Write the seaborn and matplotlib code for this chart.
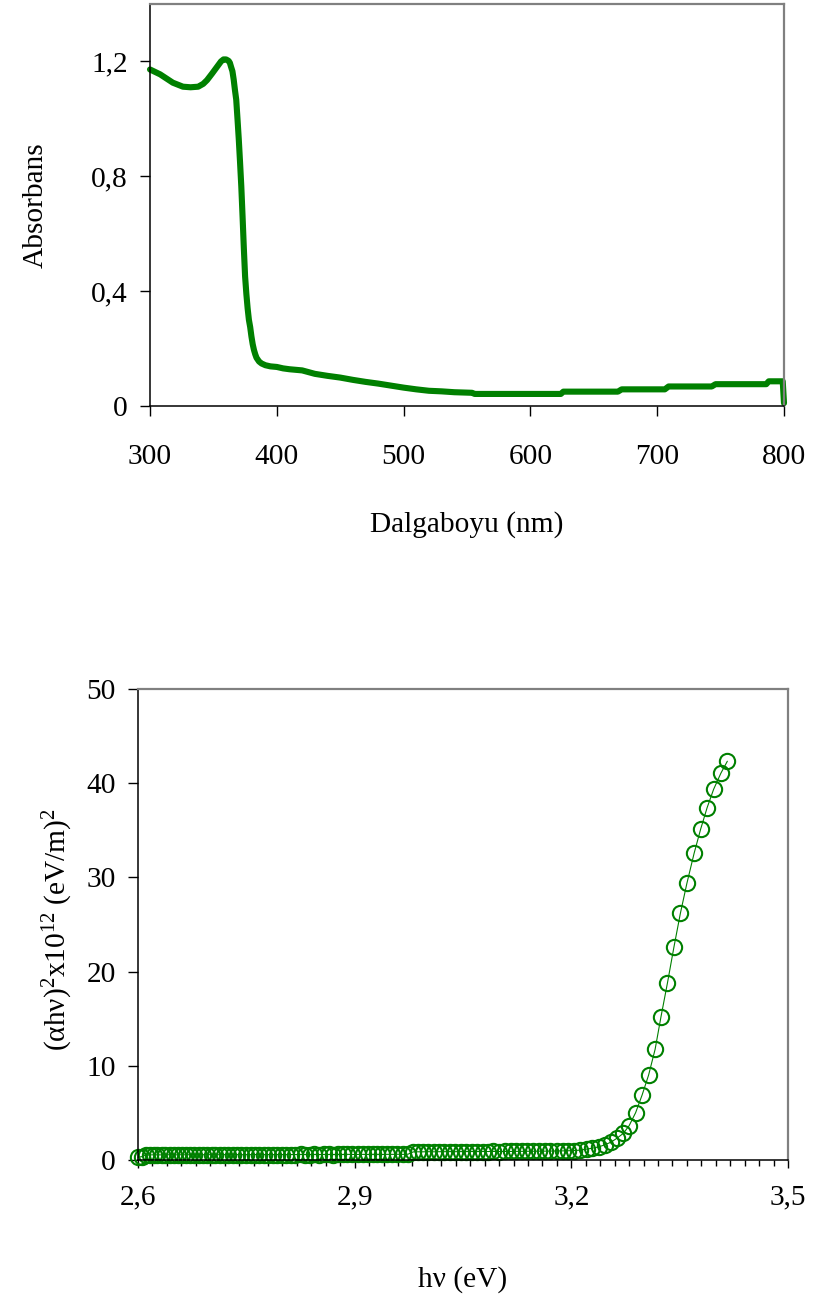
import matplotlib
matplotlib.use("Agg")
import matplotlib.pyplot as plt
from matplotlib.ticker import MultipleLocator
import seaborn as sns

# --- Absorbance spectrum ---------------------------------------------------
wavelength_nm = [300, 308, 318, 326, 332, 338, 342, 345, 349, 353, 356, 358, 360,
                 362, 363, 364, 365, 366, 367, 368, 369, 370, 371, 372, 373, 374,
                 375, 376, 377, 378, 379, 380, 381, 382, 383, 384, 386, 388, 391,
                 395, 400, 405, 410, 420, 430, 440, 450, 460, 470, 480, 490, 500,
                 510, 520, 530, 540, 554, 556, 624, 626, 669, 672, 706, 709, 743,
                 746, 786, 788, 799, 800]
absorbance = [1.172, 1.155, 1.126, 1.112, 1.110, 1.112, 1.122, 1.135, 1.158, 1.182,
              1.200, 1.207, 1.207, 1.202, 1.195, 1.180, 1.166, 1.137, 1.100, 1.067,
              1.000, 0.930, 0.850, 0.765, 0.660, 0.550, 0.451, 0.390, 0.340, 0.300,
              0.275, 0.242, 0.215, 0.195, 0.180, 0.168, 0.155, 0.148, 0.142, 0.138,
              0.136, 0.131, 0.128, 0.124, 0.112, 0.105, 0.099, 0.091, 0.084, 0.078,
              0.071, 0.064, 0.058, 0.053, 0.051, 0.048, 0.046, 0.042, 0.042, 0.050,
              0.050, 0.058, 0.058, 0.068, 0.068, 0.076, 0.076, 0.086, 0.086, 0.010]

top_xticks = [300, 400, 500, 600, 700, 800]
top_xticklabels = ["300", "400", "500", "600", "700", "800"]
top_yticks = [0, 0.4, 0.8, 1.2]
top_yticklabels = ["0", "0,4", "0,8", "1,2"]

# --- Tauc plot ---------------------------------------------------------------
photon_energy_ev = [
    2.600, 2.605, 2.611, 2.616, 2.622, 2.627, 2.633, 2.638, 2.644, 2.650,
    2.655, 2.661, 2.667, 2.672, 2.678, 2.684, 2.690, 2.696, 2.702, 2.707,
    2.713, 2.719, 2.725, 2.731, 2.737, 2.743, 2.749, 2.756, 2.762, 2.768,
    2.774, 2.780, 2.787, 2.793, 2.799, 2.805, 2.812, 2.818, 2.825, 2.831,
    2.838, 2.844, 2.851, 2.857, 2.864, 2.870, 2.877, 2.884, 2.890, 2.897,
    2.904, 2.911, 2.918, 2.925, 2.931, 2.938, 2.945, 2.952, 2.959, 2.967,
    2.974, 2.981, 2.988, 2.995, 3.002, 3.010, 3.017, 3.024, 3.032, 3.039,
    3.047, 3.054, 3.062, 3.069, 3.077, 3.085, 3.092, 3.100, 3.108, 3.116,
    3.123, 3.131, 3.139, 3.147, 3.155, 3.163, 3.171, 3.180, 3.188, 3.196,
    3.204, 3.212, 3.221, 3.229, 3.238, 3.246, 3.255, 3.263, 3.272, 3.280,
    3.289, 3.298, 3.307, 3.316, 3.324, 3.333, 3.342, 3.351, 3.360, 3.370,
    3.379, 3.388, 3.397, 3.407, 3.416]
tauc_value = [
    0.30, 0.35, 0.52, 0.54, 0.55, 0.55, 0.54, 0.55, 0.56, 0.55,
    0.55, 0.56, 0.55, 0.56, 0.56, 0.55, 0.56, 0.56, 0.57, 0.56,
    0.56, 0.57, 0.56, 0.57, 0.57, 0.56, 0.57, 0.57, 0.58, 0.57,
    0.57, 0.58, 0.57, 0.58, 0.58, 0.57, 0.58, 0.58, 0.59, 0.58,
    0.58, 0.59, 0.58, 0.59, 0.59, 0.58, 0.59, 0.59, 0.60, 0.59,
    0.59, 0.60, 0.59, 0.60, 0.60, 0.59, 0.60, 0.60, 0.61, 0.60,
    0.62, 0.86, 0.87, 0.87, 0.88, 0.87, 0.88, 0.88, 0.89, 0.88,
    0.89, 0.89, 0.90, 0.89, 0.90, 0.90, 0.91, 0.90, 0.91, 0.91,
    0.92, 0.92, 0.93, 0.93, 0.94, 0.94, 0.95, 0.96, 0.97, 0.98,
    1.00, 1.05, 1.15, 1.25, 1.40, 1.60, 1.90, 2.30, 2.83, 3.64,
    5.02, 6.90, 9.02, 11.75, 15.15, 18.76, 22.58, 26.19, 29.37, 32.56,
    35.11, 37.40, 39.35, 41.05, 42.33]

bottom_xticks = [2.6, 2.9, 3.2, 3.5]
bottom_xticklabels = ["2,6", "2,9", "3,2", "3,5"]
bottom_yticks = [0, 10, 20, 30, 40, 50]

GREEN = "#008000"
FRAME_GRAY = "#808080"

sns.set_style("ticks")
plt.rcParams["font.family"] = ["Liberation Serif", "DejaVu Serif"]
plt.rcParams["mathtext.fontset"] = "custom"
plt.rcParams["mathtext.rm"] = "Liberation Serif"
plt.rcParams["mathtext.it"] = "Liberation Serif:italic"
for key in ("text.color", "axes.labelcolor", "xtick.color", "ytick.color",
            "xtick.labelcolor", "ytick.labelcolor"):
    plt.rcParams[key] = "black"
FS = 21.2

fig = plt.figure(figsize=(8.13, 13.05), dpi=100)
W, H = 813, 1305


def px_axes(left, top, right, bottom):
    return fig.add_axes([left / W, (H - bottom) / H, (right - left) / W, (bottom - top) / H])


def style_frame(ax):
    for side in ("left", "bottom"):
        ax.spines[side].set_color("black")
        ax.spines[side].set_linewidth(1.1)
    for side in ("top", "right"):
        ax.spines[side].set_visible(True)
        ax.spines[side].set_color(FRAME_GRAY)
        ax.spines[side].set_linewidth(1.6)
    ax.tick_params(axis="both", which="both", direction="out", color="black",
                   labelcolor="black", width=1.0, labelsize=FS, top=False, right=False)


# Upper panel: absorbance spectrum
ax1 = px_axes(150, 4, 784, 406)
sns.lineplot(x=wavelength_nm, y=absorbance, ax=ax1, color=GREEN, linewidth=4.4,
             estimator=None, sort=False, clip_on=False)
ax1.set_xlim(300, 800)
ax1.set_ylim(0, 1.4)
ax1.set_xticks(top_xticks)
ax1.set_xticklabels(top_xticklabels)
ax1.set_yticks(top_yticks)
ax1.set_yticklabels(top_yticklabels)
style_frame(ax1)
ax1.tick_params(axis="x", length=7, pad=20)
ax1.tick_params(axis="y", length=7, pad=9)
ax1.set_xlabel("Dalgaboyu (nm)", fontsize=FS)
ax1.set_ylabel("Absorbans", fontsize=FS)
ax1.xaxis.label.set_verticalalignment("center")
ax1.yaxis.label.set_verticalalignment("center")
ax1.xaxis.set_label_coords(0.5, (406 - 525) / 402)
ax1.yaxis.set_label_coords((36 - 150) / 634, 0.5)

# Lower panel: Tauc plot
ax2 = px_axes(138, 689, 788, 1160)
sns.lineplot(x=photon_energy_ev, y=tauc_value, ax=ax2, color=GREEN, linewidth=0.8,
             marker="o", markersize=11, markerfacecolor="none",
             markeredgecolor=GREEN, markeredgewidth=1.5,
             estimator=None, sort=False, clip_on=False)
ax2.set_xlim(2.6, 3.5)
ax2.set_ylim(0, 50)
ax2.set_xticks(bottom_xticks)
ax2.set_xticklabels(bottom_xticklabels)
ax2.set_yticks(bottom_yticks)
ax2.xaxis.set_minor_locator(MultipleLocator(0.02))
style_frame(ax2)
ax2.tick_params(axis="x", which="major", length=6, pad=11.5)
ax2.tick_params(axis="x", which="minor", length=4)
ax2.tick_params(axis="y", length=7, pad=9)
ax2.set_xlabel("h\u03bd (eV)", fontsize=FS)
ax2.set_ylabel("$\\mathrm{(\u03b1h\u03bd)^{2}x10^{12}\\ (eV/m)^{2}}$", fontsize=FS)
ax2.xaxis.label.set_verticalalignment("center")
ax2.yaxis.label.set_verticalalignment("center")
ax2.xaxis.set_label_coords(0.5, (1160 - 1280) / 471)
ax2.yaxis.set_label_coords((58 - 138) / 650, 0.49)

fig.savefig("out.png", dpi=100)
